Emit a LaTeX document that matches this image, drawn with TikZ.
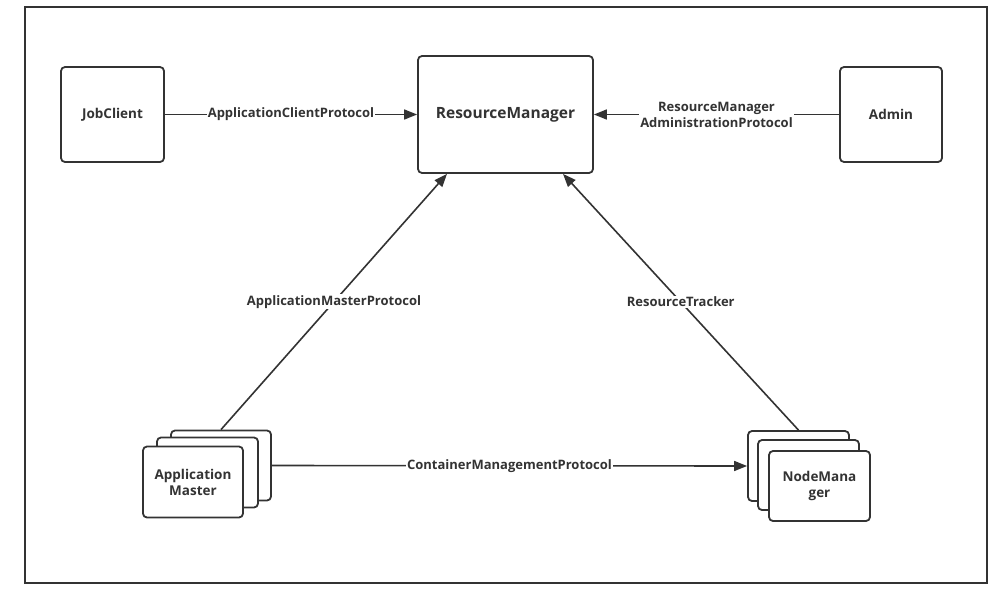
\documentclass[tikz,border=0pt]{standalone}
\usepackage{fontspec}
\setmainfont{Open Sans}
\usetikzlibrary{arrows.meta,calc}
\definecolor{ink}{HTML}{333333}
\begin{document}
\begin{tikzpicture}[x=1pt,y=-1pt,
  box/.style={draw=ink, line width=1.8pt, rounded corners=4pt, fill=white, text=ink,
    font=\bfseries\fontsize{13.5}{16}\selectfont, align=center, inner sep=0pt},
  conn/.style={draw=ink, line width=1.6pt, -{Triangle[length=13pt,width=10pt]}},
  lab/.style={fill=white, text=ink, inner sep=0.8pt, align=center,
    font=\bfseries\fontsize{13}{16}\selectfont}]
\useasboundingbox (0,0) rectangle (1004,589);
\draw[ink, line width=1.8pt] (25,7) rectangle (987,583);

\node[box, minimum width=103pt, minimum height=95pt] (jc) at (112.5,114.5) {JobClient};
\node[box, minimum width=175pt, minimum height=117pt, font=\bfseries\fontsize{15.5}{18}\selectfont] (rm) at (505.5,114.5) {ResourceManager};
\node[box, minimum width=102pt, minimum height=95pt] (ad) at (891,114.5) {Admin};

\node[box, minimum width=100pt, minimum height=70pt] (am3) at (221,465.5) {};
\node[box, minimum width=101pt, minimum height=70pt] (am2) at (207.5,472.5) {};
\node[box, minimum width=100pt, minimum height=71pt] (am1) at (193,482) {Application\\Master};

\node[box, minimum width=101pt, minimum height=70pt] (nm3) at (798.5,466) {};
\node[box, minimum width=101pt, minimum height=70pt] (nm2) at (808.5,475) {};
\node[box, minimum width=101pt, minimum height=70pt] (nm1) at (819.5,486) {NodeMana\\ger};

\draw[conn] (jc.east) -- node[lab] {ApplicationClientProtocol} (rm.west);
\draw[conn] (ad.west) -- node[lab] {ResourceManager\\AdministrationProtocol} (rm.east);
\draw[conn] (am3.north) -- node[lab] {ApplicationMasterProtocol} ($(rm.south)+(-58.5,0)$);
\draw[conn] (nm3.north) -- node[lab] {ResourceTracker} ($(rm.south)+(57.5,0)$);
\draw[conn] (am3.east) -- node[lab] {ContainerManagementProtocol} (nm3.west);
\end{tikzpicture}
\end{document}
